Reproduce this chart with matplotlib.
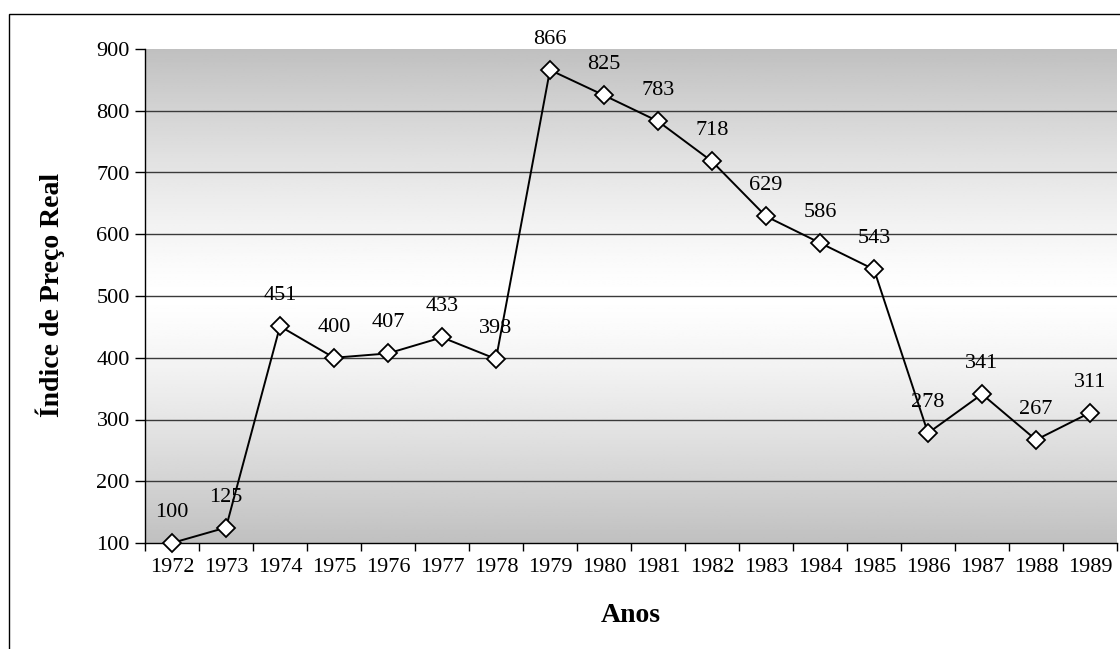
import numpy as np
import matplotlib
matplotlib.use("Agg")
import matplotlib.pyplot as plt
from matplotlib.patches import Rectangle

plt.rcParams['font.family'] = ['Liberation Serif', 'DejaVu Serif']

anos = ['1972', '1973', '1974', '1975', '1976', '1977', '1978', '1979', '1980',
        '1981', '1982', '1983', '1984', '1985', '1986', '1987', '1988', '1989']
indice = [100, 125, 451, 400, 407, 433, 398, 866, 825,
          783, 718, 629, 586, 543, 278, 341, 267, 311]
y_ticks = [100, 200, 300, 400, 500, 600, 700, 800, 900]

W, H = 1120, 649
fig = plt.figure(figsize=(W / 100, H / 100), dpi=100)

# moldura externa do grafico (cortada a direita e embaixo)
fig.patches.append(Rectangle((9 / W, -0.05), 1.2, 1 - 14 / H + 0.05,
                             transform=fig.transFigure, fill=False,
                             edgecolor='black', linewidth=1.0))

left, right, top, bottom = 145 / W, 1117 / W, 1 - 49 / H, 1 - 543 / H
ax = fig.add_axes([left, bottom, right - left, top - bottom])

x = np.arange(len(anos))
ax.set_xlim(-0.5, len(anos) - 0.5)
ax.set_ylim(100, 900)

# fundo em degrade: cinza nas bordas, branco no meio
t = np.linspace(0, 1, 256)
shade = 192 + 63 * (1 - np.abs(2 * t - 1) ** 1.3)
grad = np.repeat(shade[:, None], 2, axis=1) / 255.0
ax.imshow(grad, cmap='gray', vmin=0, vmax=1, aspect='auto',
          extent=(-0.5, len(anos) - 0.5, 100, 900), origin='lower', zorder=0)

for v in y_ticks[1:-1]:
    ax.axhline(v, color='#3a3a3a', linewidth=1.0, zorder=1)

ax.plot(x, indice, color='black', linewidth=1.4, marker='D', markersize=9,
        markerfacecolor='white', markeredgecolor='black', markeredgewidth=1.3,
        zorder=3, clip_on=False)

for xi, v in zip(x, indice):
    ax.annotate(str(v), (xi, v), xytext=(0, 22), textcoords='offset points',
                ha='center', va='center', fontsize=16, zorder=4,
                annotation_clip=False)

ax.set_xticks(x)
ax.set_xticklabels(anos, fontsize=16)
ax.set_xticks(np.arange(len(anos) + 1) - 0.5, minor=True)
ax.tick_params(axis='x', which='major', length=0, pad=11)
ax.tick_params(axis='x', which='minor', length=6, width=1.0, direction='out')
ax.set_yticks(y_ticks)
ax.set_yticklabels([str(v) for v in y_ticks], fontsize=16)
ax.tick_params(axis='y', length=7, width=1.0, pad=4, direction='out')

for s in ['top', 'right']:
    ax.spines[s].set_visible(False)
for s in ['left', 'bottom']:
    ax.spines[s].set_linewidth(1.0)
    ax.spines[s].set_color('black')

fig.text(50 / W, 1 - 295 / H, 'Índice de Preço Real', rotation=90,
         ha='center', va='center', fontsize=20, fontweight='bold')
fig.text(631 / W, 1 - 615 / H, 'Anos', ha='center', va='center',
         fontsize=20, fontweight='bold')

fig.savefig('out.png', dpi=100)
